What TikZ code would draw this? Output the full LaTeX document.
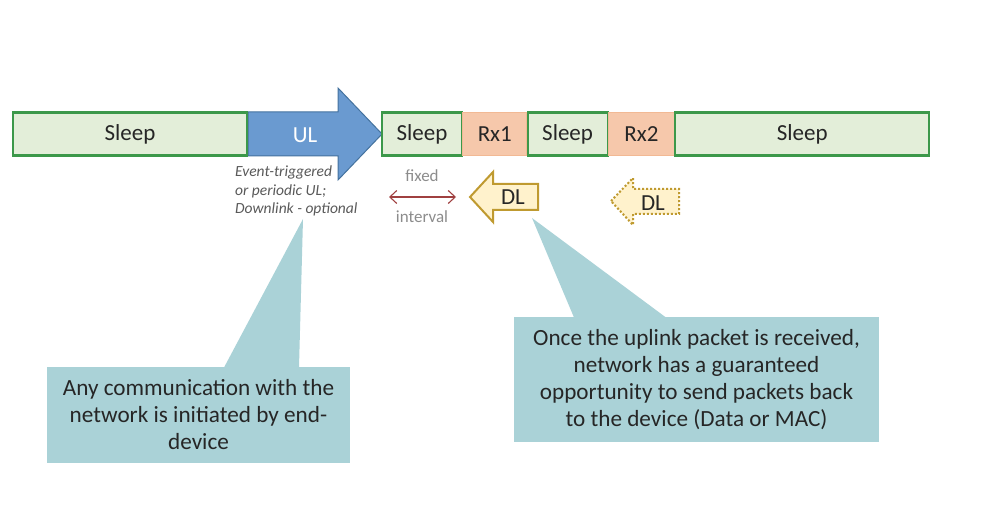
\documentclass[tikz,border=0pt]{standalone}
\usepackage{fontspec}
\setmainfont{Carlito}
\usepackage{tikz}
\usetikzlibrary{positioning,arrows.meta}
\definecolor{sleepfill}{HTML}{E3EED9}
\definecolor{sleepline}{HTML}{3C984A}
\definecolor{rxfill}{HTML}{F6C8AB}
\definecolor{rxline}{HTML}{F2B994}
\definecolor{ulfill}{HTML}{6A9AD0}
\definecolor{ulline}{HTML}{44729E}
\definecolor{dlfill}{HTML}{FFF2CC}
\definecolor{dlline}{HTML}{BF9A30}
\definecolor{calloutfill}{HTML}{AAD2D7}
\definecolor{txt}{HTML}{262626}
\definecolor{notegray}{HTML}{595959}
\definecolor{fixgray}{HTML}{8C8C8C}
\definecolor{fixred}{HTML}{A04040}

\begin{document}
\begin{tikzpicture}[x=1pt,y=-1pt,
    sleepbox/.style={draw=sleepline, fill=sleepfill, line width=2.2pt,
        minimum height=43pt, inner sep=0, outer sep=0, text=txt,
        font=\fontsize{23}{27}\selectfont},
    rxbox/.style={sleepbox, draw=rxline, fill=rxfill, line width=1.2pt},
    calloutbox/.style={fill=calloutfill, align=center, text=txt,
        inner sep=0, font=\fontsize{23.2}{27}\selectfont}]
\useasboundingbox (0,0) rectangle (984,518);

% UL arrow
\draw[fill=ulfill, draw=ulline, line width=1pt]
    (248,112) -- (338,112) -- (338,88) -- (382,134) -- (338,180)
    -- (338,156) -- (248,156) -- cycle;
\node[text=white, font=\fontsize{23}{27}\selectfont] (ul) at (305,135) {UL};

% Time line
\node[sleepbox, minimum width=234pt, anchor=west] (sleepA) at (13,134) {Sleep};
\node[sleepbox, minimum width=80pt, anchor=west] (sleepB) at (382,134) {Sleep};
\node[rxbox, minimum width=64pt, right=0.8pt of sleepB] (rxA) {Rx1};
\node[sleepbox, minimum width=80pt, right=0.8pt of rxA] (sleepC) {Sleep};
\node[rxbox, minimum width=66pt, right=0.8pt of sleepC] (rxB) {Rx2};
\node[sleepbox, minimum width=254pt, right=0.8pt of rxB] (sleepD) {Sleep};

% Note below UL
\node[anchor=north west, align=left, text=notegray, inner sep=0,
    font=\fontsize{15.5}{18.5}\selectfont\itshape
] (ulnote) at (235,166) {Event-triggered\\or periodic UL;\\Downlink - optional};

% fixed interval
\node[text=fixgray, font=\fontsize{17}{20}\selectfont] (fixed) at (422,176) {fixed};
\node[text=fixgray, font=\fontsize{17}{20}\selectfont] (interval) at (422,217) {interval};
\coordinate (fixL) at (389,197);
\coordinate (fixR) at (456,197);
\draw[fixred, line width=1.1pt,
    {Straight Barb[length=7pt,width=13pt]}-{Straight Barb[length=7pt,width=13pt]}]
    (fixL) -- (fixR);

% DL arrows
\draw[fill=dlfill, draw=dlline, line width=2pt]
    (470,197) -- (493,172) -- (493,184) -- (538,184) -- (538,210)
    -- (493,210) -- (493,222) -- cycle;
\node[text=txt, font=\fontsize{23}{27}\selectfont] (dlA) at (513,197) {DL};
\draw[fill=dlfill, draw=dlline, line width=2pt, dotted]
    (611,201) -- (633,178) -- (633,189) -- (679,189) -- (679,214)
    -- (633,214) -- (633,225) -- cycle;
\node[text=txt, font=\fontsize{23}{27}\selectfont] (dlB) at (653,203) {DL};

% Callouts
\node[calloutbox, minimum width=303pt, minimum height=96pt
] (calloutA) at (198.5,415) {Any communication with the\\network is initiated by end-\\device};
\fill[calloutfill] (224,367.5) -- (303,219) -- (299,367.5) -- cycle;

\node[calloutbox, minimum width=365pt, minimum height=125pt
] (calloutB) at (696.5,379.5) {Once the uplink packet is received,\\network has a guaranteed\\opportunity to send packets back\\to the device (Data or MAC)};
\fill[calloutfill] (574,317.5) -- (532,218) -- (666,317.5) -- cycle;

\end{tikzpicture}
\end{document}
